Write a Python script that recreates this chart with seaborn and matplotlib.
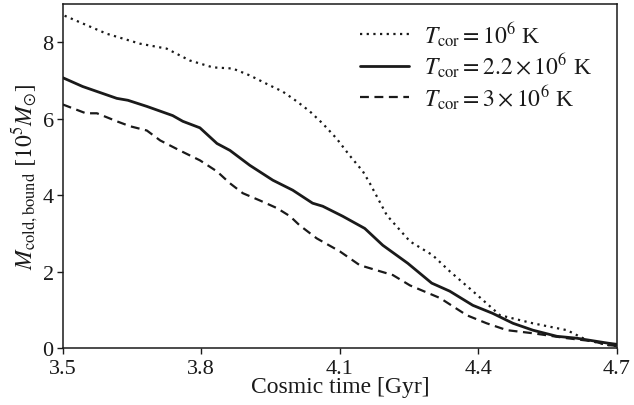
import matplotlib
matplotlib.use("Agg")
import matplotlib.pyplot as plt
import seaborn as sns
import pandas as pd

# Cold gas mass bound to the cloud, for three corona temperatures
t_low = [3.504, 3.595, 3.667, 3.725, 3.775, 3.825, 3.868, 3.905, 3.948, 3.976,
         4.007, 4.035, 4.063, 4.093, 4.121, 4.150, 4.165, 4.202, 4.252, 4.301,
         4.338, 4.388, 4.447, 4.518, 4.592, 4.635, 4.681, 4.700]
m_low = [8.69, 8.22, 7.96, 7.83, 7.52, 7.34, 7.31, 7.13, 6.87, 6.71,
         6.45, 6.19, 5.87, 5.48, 5.04, 4.62, 4.31, 3.47, 2.79, 2.43,
         2.01, 1.49, 0.86, 0.65, 0.47, 0.21, 0.08, 0.05]

t_mid = [3.500, 3.543, 3.574, 3.617, 3.641, 3.682, 3.738, 3.760, 3.797, 3.834,
         3.862, 3.905, 3.955, 3.998, 4.041, 4.063, 4.106, 4.154, 4.193, 4.247,
         4.273, 4.299, 4.338, 4.388, 4.431, 4.475, 4.518, 4.570, 4.613, 4.681,
         4.700]
m_mid = [7.07, 6.84, 6.71, 6.53, 6.48, 6.32, 6.08, 5.93, 5.76, 5.35,
         5.17, 4.78, 4.39, 4.13, 3.79, 3.71, 3.45, 3.13, 2.69, 2.22,
         1.96, 1.70, 1.49, 1.12, 0.91, 0.65, 0.47, 0.31, 0.26, 0.13,
         0.10]

t_high = [3.500, 3.550, 3.574, 3.617, 3.646, 3.682, 3.711, 3.753, 3.797, 3.834,
          3.862, 3.890, 3.927, 3.964, 3.992, 4.013, 4.050, 4.100, 4.143, 4.187,
          4.215, 4.252, 4.317, 4.375, 4.418, 4.462, 4.518, 4.592, 4.648, 4.681,
          4.700]
m_high = [6.37, 6.14, 6.14, 5.93, 5.80, 5.69, 5.43, 5.17, 4.91, 4.62,
          4.31, 4.05, 3.86, 3.66, 3.45, 3.21, 2.87, 2.53, 2.17, 2.01,
          1.91, 1.64, 1.31, 0.86, 0.65, 0.47, 0.39, 0.26, 0.18, 0.08,
          0.06]

labels = [r"$T_{\rm cor} = 10^6$ K",
          r"$T_{\rm cor} = 2.2 \times 10^6$ K",
          r"$T_{\rm cor} = 3 \times 10^6$ K"]

x_ticks = [3.5, 3.8, 4.1, 4.4, 4.7]
y_ticks = [0, 2, 4, 6, 8]

sns.set_theme(style="ticks")
plt.rcParams["font.family"] = ["Liberation Serif", "DejaVu Serif"]
plt.rcParams["mathtext.fontset"] = "stix"

fig, ax = plt.subplots(figsize=(6.34, 4.06), dpi=100)
fig.subplots_adjust(left=0.099, right=0.973, top=0.988, bottom=0.140)

series = [(t_low, m_low, (0, (1, 2)), 1.6),
          (t_mid, m_mid, "-", 2.0),
          (t_high, m_high, (0, (4, 2.5)), 1.6)]
for (t, m, ls, lw), lab in zip(series, labels):
    df = pd.DataFrame({"t": t, "m": m})
    sns.lineplot(data=df, x="t", y="m", ax=ax, color="#1a1a1a",
                 linestyle=ls, linewidth=lw, label=lab)

ax.set_xlim(3.5, 4.7)
ax.set_ylim(0, 9)
ax.set_xticks(x_ticks)
ax.set_xticklabels([f"{v:.1f}" for v in x_ticks])
ax.set_yticks(y_ticks)
ax.tick_params(axis="both", direction="out", length=4, width=1, labelsize=16,
               color="#1a1a1a", labelcolor="#1a1a1a")
ax.tick_params(axis="x", pad=3.5)
ax.tick_params(axis="y", pad=2.5)
for s in ax.spines.values():
    s.set_linewidth(1.1)
    s.set_color("#1a1a1a")
    s.set_visible(True)

ax.set_xlabel("Cosmic time [Gyr]", fontsize=17, color="#1a1a1a", labelpad=-1)
ax.set_ylabel(r"$M_{\rm cold,bound}$ $[10^5 M_{\odot}]$", fontsize=17,
              color="#1a1a1a", labelpad=1)

leg = ax.legend(loc="upper right", bbox_to_anchor=(0.982, 1.0),
                frameon=False, fontsize=17,
                handlelength=2.1, handletextpad=0.6, labelspacing=0.12,
                borderaxespad=0.25)
for txt in leg.get_texts():
    txt.set_color("#1a1a1a")

fig.savefig("out.png", dpi=100)
